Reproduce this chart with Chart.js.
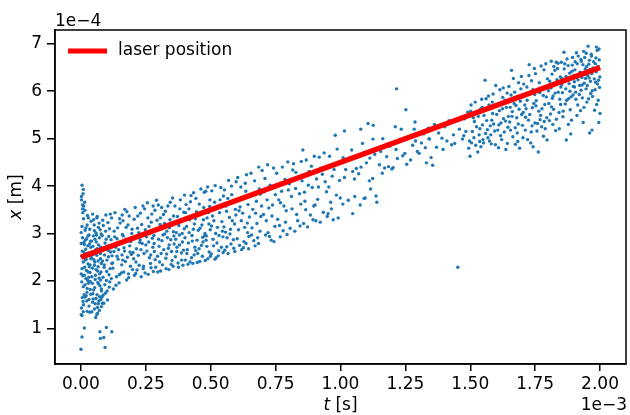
<!DOCTYPE html>
<html>
<head>
<meta charset="utf-8">
<script src="https://cdn.jsdelivr.net/npm/chart.js@4.4.1/dist/chart.umd.min.js"></script>
<style>
  body { margin: 0; background: #fff; }
  #chart { display: block; }
</style>
</head>
<body>
<canvas id="chart" width="630" height="415"></canvas>
<script>
// time in units of 1e-3 s, position in units of 1e-4 m (offsets shown as axis text)
const xTicks = [0, 0.25, 0.5, 0.75, 1.0, 1.25, 1.5, 1.75, 2.0];
const yTicks = [1, 2, 3, 4, 5, 6, 7];

const laserT = [0, 2.0];
const laserX = [2.5, 6.5];

// measured positions
const burstOutliers = [
  [0.000,0.56],[0.004,0.82],[0.013,1.01],[0.098,1.02],[0.119,0.93],[0.073,0.93],[0.075,0.79],[0.088,0.81],[0.093,0.60],
  [0.001,1.29],[0.004,1.27],[0.024,1.36],[0.034,1.34],[0.057,1.23],[0.061,1.29],[0.064,1.32],[0.079,1.46],[0.083,1.53],
  [0.022,1.58],[0.031,1.47],[0.045,1.55],[0.052,1.41],[0.058,1.63],[0.067,1.52],[0.071,1.38],[0.077,1.61],[0.085,1.70],
  [0.015,1.66],[0.038,1.72],[0.009,1.35]
];

const burstStart = [
  [0.002,3.71],[0.017,2.44],[0.009,1.88],[0.031,2.97],[0.005,2.63],[0.024,3.18],[0.013,2.12],[0.038,2.71],[0.001,3.02],[0.020,1.69],[0.027,2.36],[0.007,3.44],
  [0.035,2.18],[0.011,2.81],[0.029,1.95],[0.004,2.26],[0.016,3.07],[0.033,2.53],[0.022,2.89],[0.008,1.57],[0.039,3.26],[0.014,2.49],[0.003,1.98],[0.026,2.74],
  [0.019,2.05],[0.036,1.82],[0.010,3.31],[0.028,2.59],[0.006,2.91],[0.023,1.76],[0.032,2.30],[0.015,3.49],[0.001,2.15],[0.037,2.84],[0.012,1.71],[0.025,3.38],
  [0.018,2.67],[0.004,3.15],[0.030,2.08],[0.009,2.40],[0.034,3.09],[0.021,2.22],[0.002,1.43],[0.016,1.92],[0.027,2.95],[0.011,3.58],[0.038,2.47],[0.005,1.65],
  [0.023,2.57],[0.013,2.77],[0.031,1.61],[0.008,3.84],[0.019,3.12],[0.035,2.34],[0.003,2.52],[0.026,2.01],[0.014,2.29],[0.029,3.33],[0.007,2.11],[0.033,2.78],
  [0.020,2.46],[0.010,1.50],[0.036,1.99],[0.017,2.86],[0.024,1.84],[0.006,3.60],[0.001,2.79],[0.012,2.60],[0.028,2.19],[0.004,4.02],[0.009,3.93],[0.002,3.78],
  [0.014,3.66],[0.006,3.52],
  [0.043,2.61],[0.067,1.94],[0.051,3.18],[0.078,2.37],[0.046,1.73],[0.059,2.82],[0.072,2.15],[0.041,2.49],[0.063,3.36],[0.055,2.03],[0.076,2.71],[0.048,2.95],
  [0.069,1.58],[0.044,2.27],[0.061,2.54],[0.074,3.08],[0.053,1.86],[0.066,2.42],[0.049,3.29],[0.079,1.79],[0.057,2.66],[0.042,2.09],[0.071,2.91],[0.064,2.21],
  [0.047,1.62],[0.075,2.58],[0.058,3.01],[0.052,2.33],[0.068,2.76],[0.045,3.41],[0.062,1.71],[0.077,2.19],[0.054,2.88],[0.070,3.22],[0.050,2.45],[0.065,1.97],
  [0.041,2.84],[0.073,1.90],[0.056,2.12],[0.060,2.97],[0.047,2.56],[0.078,2.99],[0.063,2.68],[0.044,1.95],[0.067,3.13],[0.053,2.40],[0.072,1.67],[0.058,2.24],
  [0.049,1.81],[0.075,2.47],[0.061,3.33],[0.046,2.73],[0.070,2.06],[0.055,1.52],[0.064,1.44],[0.079,1.83],[0.042,1.35],[0.066,2.30],[0.052,3.06],[0.076,2.02],
  [0.083,2.42],[0.097,2.88],[0.108,2.13],[0.086,3.17],[0.114,2.61],[0.092,1.92],[0.103,2.74],[0.118,3.33],[0.089,2.29],[0.111,1.98],[0.095,3.05],[0.081,1.66],
  [0.106,2.51],[0.116,2.87],[0.099,2.20],[0.087,2.69],[0.113,3.41],[0.094,1.74],[0.104,3.23],[0.082,2.96],[0.119,2.37],[0.091,2.55],[0.109,1.87],[0.100,2.44],
  [0.085,2.08],[0.115,2.70],[0.096,3.39],[0.107,2.94],[0.088,1.53],[0.112,2.26],[0.093,2.80],[0.102,1.60],[0.117,2.05],[0.084,3.28],[0.110,3.10],[0.098,2.01],
  [0.090,2.34],[0.105,2.64],[0.120,2.53],[0.101,1.79]
];

const rampEarly = [
  [0.134,2.71],[0.151,3.22],[0.122,2.38],[0.147,1.96],[0.128,3.05],[0.158,2.55],[0.139,2.89],[0.125,1.83],[0.155,2.17],[0.131,3.44],[0.143,2.46],[0.160,2.98],
  [0.137,2.09],[0.149,3.31],[0.127,2.62],[0.153,2.80],[0.141,3.12],[0.123,2.27],[0.157,2.34],[0.135,1.91],[0.145,2.66],[0.130,2.93],[0.159,3.39],[0.139,2.52],
  [0.148,2.13],
  [0.173,2.88],[0.191,2.31],[0.162,3.27],[0.184,2.07],[0.168,2.63],[0.197,3.09],[0.177,3.46],[0.165,2.19],[0.188,2.74],[0.171,2.41],[0.194,2.56],[0.181,3.18],
  [0.163,2.95],[0.199,2.24],[0.176,2.02],[0.186,3.37],[0.169,3.51],[0.192,2.83],[0.179,2.50],[0.166,2.70],[0.196,3.00],[0.183,2.15],[0.174,3.13],[0.189,2.61],
  [0.161,2.44],
  [0.218,3.11],[0.203,2.47],[0.236,2.79],[0.211,2.16],[0.229,3.43],[0.207,2.92],[0.224,2.33],[0.239,3.58],[0.214,2.68],[0.232,2.09],[0.205,3.30],[0.221,2.54],
  [0.238,2.98],[0.209,3.55],[0.227,2.81],[0.216,2.23],[0.234,3.19],[0.201,2.60],[0.223,3.02],[0.212,2.40],[0.231,2.66],[0.240,2.26],[0.219,3.37],[0.206,2.12],
  [0.228,2.87],
  [0.252,2.93],[0.268,2.37],[0.245,3.52],[0.277,2.71],[0.259,2.14],[0.243,2.58],[0.271,3.24],[0.256,3.65],[0.264,2.49],[0.248,3.08],[0.279,2.20],[0.261,2.82],
  [0.241,2.31],[0.273,3.41],[0.254,2.63],[0.266,3.00],[0.247,2.17],[0.275,2.90],[0.258,3.33],[0.269,2.55],[0.250,2.76],[0.262,3.15],[0.278,3.58],[0.244,2.98],
  [0.270,2.28],
  [0.293,3.28],[0.283,2.62],[0.307,2.21],[0.298,3.60],[0.312,2.85],[0.286,2.45],[0.318,3.40],[0.301,2.73],[0.289,3.07],[0.314,2.34],[0.296,2.19],[0.305,3.19],
  [0.281,2.96],[0.309,2.58],[0.291,3.70],[0.316,2.97],[0.303,2.40],[0.285,3.49],[0.299,2.88],[0.311,3.55],[0.288,2.29],[0.319,2.66],[0.295,2.52],[0.306,3.33],
  [0.282,2.79],
  [0.337,2.69],[0.322,3.21],[0.351,2.43],[0.344,3.66],[0.328,2.26],[0.356,3.04],[0.333,2.91],[0.348,2.35],[0.325,3.47],[0.359,2.78],[0.341,3.12],[0.330,2.57],
  [0.353,3.75],[0.339,2.24],[0.346,2.87],[0.323,2.99],[0.357,3.37],[0.335,3.58],[0.349,2.62],[0.327,2.48],[0.343,3.29],[0.355,2.31],[0.331,3.05],[0.358,2.95],
  [0.340,2.76],
  [0.372,3.36],[0.391,2.82],[0.364,2.51],[0.383,3.71],[0.376,2.29],[0.398,3.10],[0.367,3.02],[0.388,2.44],[0.379,2.97],[0.362,3.58],[0.395,2.65],[0.370,2.71],
  [0.385,3.26],[0.399,3.81],[0.374,2.38],[0.381,3.52],[0.365,2.88],[0.393,2.33],[0.377,3.17],[0.387,2.59],[0.361,3.21],[0.396,3.45],[0.369,2.62],[0.390,3.00],
  [0.380,2.76],
  [0.414,2.80],[0.403,3.44],[0.431,2.37],[0.422,3.67],[0.408,2.58],[0.437,3.20],[0.417,3.02],[0.426,2.49],[0.401,2.91],[0.434,3.86],[0.412,2.35],[0.428,2.96],
  [0.405,3.61],[0.439,2.71],[0.419,3.29],[0.410,2.66],[0.433,3.09],[0.424,3.80],[0.402,2.44],[0.416,3.52],[0.436,2.55],[0.407,3.15],[0.429,2.84],[0.420,2.40],
  [0.438,3.38],
  [0.452,3.07],[0.468,2.52],[0.443,3.74],[0.477,2.96],[0.458,2.41],[0.447,2.86],[0.473,3.55],[0.462,3.94],[0.455,2.68],[0.441,3.31],[0.479,2.43],[0.466,3.18],
  [0.450,2.58],[0.470,2.82],[0.445,3.46],[0.475,3.87],[0.459,3.11],[0.464,2.75],[0.448,2.39],[0.472,3.29],[0.456,3.62],[0.442,2.64],[0.478,3.00],[0.461,3.41],
  [0.469,2.92],
  [0.486,3.33],[0.494,2.61],[0.481,3.89],[0.498,3.08],[0.489,2.47],[0.483,2.95],[0.497,3.71],[0.491,3.44],[0.485,2.73],[0.499,2.52],[0.488,3.98],[0.493,3.20],
  [0.482,2.86],[0.496,3.57]
];

const rampMid = [
  [0.512,3.27],[0.531,2.64],[0.504,3.90],[0.545,3.05],[0.521,2.49],[0.538,3.58],[0.509,2.88],[0.549,3.79],[0.526,3.13],[0.517,4.01],[0.541,2.71],[0.502,2.57],
  [0.534,3.44],[0.515,3.66],[0.547,2.93],[0.524,2.80],[0.507,3.37],[0.539,3.97],[0.529,2.53],[0.519,3.00],[0.543,3.25],[0.511,2.74],[0.536,3.71],[0.503,3.16],
  [0.548,2.60],[0.523,3.53],[0.532,2.96],[0.516,2.46],
  [0.561,3.47],[0.578,2.78],[0.553,3.92],[0.592,3.20],[0.567,2.58],[0.585,3.66],[0.557,3.03],[0.598,4.09],[0.572,3.34],[0.589,2.69],[0.563,2.91],[0.581,3.82],
  [0.554,2.65],[0.595,3.51],[0.569,4.12],[0.576,3.09],[0.587,2.87],[0.559,3.58],[0.593,2.62],[0.566,3.74],[0.583,3.27],[0.551,3.14],[0.574,2.99],[0.597,3.39],
  [0.562,2.72],[0.580,4.00],
  [0.613,3.56],[0.628,2.83],[0.604,4.18],[0.641,3.22],[0.619,2.66],[0.635,3.89],[0.607,3.08],[0.647,2.94],[0.623,3.43],[0.611,2.75],[0.638,4.24],[0.631,3.13],
  [0.616,3.98],[0.644,3.61],[0.602,2.89],[0.626,2.70],[0.649,3.35],[0.621,3.72],[0.636,2.79],[0.609,3.48],[0.642,3.02],[0.633,4.06],[0.618,3.27],[0.646,2.68],
  [0.662,3.51],[0.681,2.91],[0.655,4.27],[0.693,3.36],[0.671,2.74],[0.687,3.94],[0.659,3.12],[0.698,4.33],[0.676,3.68],[0.666,2.85],[0.690,3.05],[0.652,3.79],
  [0.684,2.79],[0.669,4.11],[0.696,3.58],[0.678,3.21],[0.657,2.97],[0.691,3.83],[0.673,3.43],[0.685,4.40],
  [0.714,3.27],[0.733,2.86],[0.706,3.88],[0.742,4.38],[0.721,3.02],[0.738,3.60],[0.709,4.16],[0.747,3.15],[0.726,2.94],[0.717,3.71],[0.744,2.83],[0.729,4.02],
  [0.703,3.40],[0.736,3.37],[0.719,4.45],[0.749,3.82],[0.724,3.54],[0.711,2.97],
  [0.762,3.71],[0.779,3.06],[0.754,4.27],[0.791,3.48],[0.768,2.93],[0.786,4.14],[0.758,3.30],[0.797,4.51],[0.773,3.89],[0.765,3.17],[0.794,2.98],[0.782,3.58],
  [0.751,3.99],[0.776,4.40],[0.788,3.24],[0.769,3.65],[0.799,3.92],
  [0.813,3.52],[0.828,4.29],[0.806,3.11],[0.842,3.84],[0.819,4.47],[0.835,3.27],[0.803,4.05],[0.847,3.62],[0.824,3.05],[0.838,4.19],[0.811,3.78],[0.849,4.52],
  [0.831,3.40],[0.816,4.34],[0.844,3.16],[0.827,3.95],
  [0.855,4.76],[0.863,3.68],[0.879,4.31],[0.858,3.21],[0.891,3.97],[0.868,4.55],[0.884,3.39],[0.852,4.11],[0.897,3.58],[0.873,3.14],[0.888,4.42],[0.861,3.87],
  [0.894,3.29],[0.876,4.02],[0.866,3.50],[0.899,4.63],
  [0.912,3.72],[0.927,4.38],[0.905,3.27],[0.941,4.09],[0.918,4.61],[0.934,3.45],[0.908,4.15],[0.946,3.88],[0.922,3.24],[0.937,4.70],[0.915,3.98],[0.949,3.36],
  [0.930,4.25],[0.902,3.60],
  [0.980,5.07],[0.962,3.66],[0.977,4.47],[0.955,3.98],[0.991,3.33],[0.968,4.21],[0.984,3.81],[0.958,4.63],[0.996,4.12],[0.972,3.29],[0.987,4.78],[0.965,3.52],
  [0.999,3.75],[0.975,4.35],[0.952,3.42]
];

const rampSparse = [
  [1.009,3.62],[1.015,4.18],[1.010,4.60],[1.015,5.16],[1.020,4.35],[1.030,3.70],[1.043,4.76],[1.047,3.42],[1.054,4.15],[1.055,3.78],[1.061,4.37],[1.047,4.31],
  [1.070,4.26],[1.076,3.60],[1.078,5.20],[1.079,4.40],[1.085,4.90],[1.091,3.74],[1.095,3.75],[1.100,4.49],[1.106,5.32],[1.111,4.11],[1.113,4.59],[1.116,3.94],
  [1.124,4.16],[1.125,4.99],[1.126,5.28],[1.132,4.67],[1.137,3.79],[1.140,3.66],[1.150,4.45],[1.155,4.73],[1.161,4.27],[1.163,5.00],[1.170,4.38],[1.178,4.62],
  [1.185,4.41],[1.190,4.84],[1.198,4.36],[1.203,4.39],[1.211,5.25],[1.216,6.05],[1.214,4.77],[1.219,4.58],[1.225,4.96],[1.234,5.20],[1.240,4.64],[1.248,4.69],
  [1.252,5.61],[1.255,4.46],[1.262,5.03],[1.270,4.55],[1.278,4.86],[1.284,5.20],[1.287,5.35],[1.289,4.95],[1.296,4.73],[1.303,4.69],[1.312,4.91],[1.320,5.10],
  [1.327,4.81],[1.331,4.49],[1.338,5.22],[1.341,5.00],[1.349,4.60],[1.343,4.99],[1.355,4.44],[1.362,5.30],[1.370,4.82],[1.378,5.12],[1.391,5.01],[1.395,4.77],
  [1.402,5.25],[1.410,4.95],[1.418,5.38],[1.428,4.87],[1.435,5.08],[1.440,4.90],[1.452,2.29],[1.458,5.20],[1.465,5.45],[1.470,4.99],[1.475,5.06],[1.478,5.42],
  [1.483,5.15],[1.490,5.56],[1.497,4.95],[1.494,4.80],[1.499,4.63]
];

const rampLate = [
  [1.512,5.44],[1.534,5.08],[1.503,5.71],[1.547,5.29],[1.521,4.86],[1.539,5.62],[1.508,5.15],[1.529,4.72],[1.544,5.83],[1.516,5.36],[1.549,4.98],[1.526,5.54],
  [1.505,4.91],[1.537,5.21],[1.519,5.77],[1.541,4.83],[1.531,5.47],[1.514,5.02],[1.546,5.66],[1.524,5.25],[1.501,5.58],[1.536,4.94],
  [1.557,6.23],[1.563,5.38],[1.581,4.89],[1.572,5.71],[1.594,5.16],[1.568,5.02],[1.588,5.94],[1.553,5.49],[1.598,6.12],[1.577,5.27],[1.561,5.84],[1.586,5.53],
  [1.574,4.95],[1.592,5.68],[1.566,5.19],[1.583,5.39],[1.555,5.63],[1.597,4.87],[1.570,5.90],[1.579,5.08],[1.590,5.31],[1.559,5.11],[1.585,5.77],[1.551,4.91],
  [1.612,5.59],[1.625,5.87],[1.609,4.81],[1.637,4.77],[1.618,5.33],[1.642,5.96],[1.604,5.72],[1.631,5.14],[1.647,5.47],[1.614,6.03],[1.628,5.42],[1.606,5.18],
  [1.639,5.66],[1.621,4.98],[1.645,5.24],[1.602,5.51],[1.633,5.81],[1.617,5.06],[1.649,6.10],[1.624,5.63],[1.610,5.29],[1.636,5.37],[1.643,4.90],[1.627,6.07],
  [1.659,6.44],[1.671,5.98],[1.655,5.18],[1.686,6.18],[1.662,5.57],[1.690,4.80],[1.668,5.86],[1.683,4.94],[1.676,5.70],[1.652,5.35],[1.695,6.05],[1.664,5.04],
  [1.679,5.44],[1.688,5.62],[1.657,5.92],[1.673,5.23],[1.698,5.51],[1.666,6.27],[1.681,5.12],[1.693,5.79],[1.654,5.66],[1.674,4.88],[1.685,5.31],[1.661,5.47],
  [1.697,6.31],[1.669,5.74],
  [1.704,5.55],[1.727,6.56],[1.712,5.18],[1.739,5.65],[1.742,4.83],[1.718,6.09],[1.735,5.14],[1.747,6.48],[1.708,5.89],[1.724,5.39],[1.731,5.96],[1.701,5.28],
  [1.745,5.74],[1.715,5.63],[1.736,6.22],[1.721,4.98],[1.749,5.33],[1.706,6.15],[1.729,5.51],[1.741,6.03],[1.713,5.45],[1.733,4.91],[1.719,5.81],[1.748,5.93],
  [1.703,5.02],[1.726,6.33],[1.738,5.27],[1.710,5.71],
  [1.762,4.72],[1.771,5.49],[1.784,6.45],[1.759,5.32],[1.793,5.88],[1.766,6.18],[1.782,5.05],[1.754,5.80],[1.797,6.26],[1.776,5.63],[1.789,5.21],[1.768,5.97],
  [1.751,6.37],[1.787,5.72],[1.779,6.05],[1.757,5.16],[1.795,5.44],[1.773,6.53],[1.764,5.58],[1.799,6.12],[1.785,5.36],[1.760,6.02],[1.791,6.58],[1.775,5.25],
  [1.753,5.69],[1.781,5.91],[1.796,4.97],[1.769,5.40],
  [1.812,6.63],[1.818,5.30],[1.843,5.21],[1.827,5.96],[1.806,6.21],[1.836,6.48],[1.821,5.62],[1.849,6.09],[1.803,5.74],[1.832,5.41],[1.815,6.36],[1.845,5.83],
  [1.824,6.14],[1.809,5.52],[1.838,6.59],[1.829,5.17],[1.801,6.01],[1.847,6.30],[1.819,5.90],[1.834,6.24],[1.813,5.67],[1.842,5.55],[1.826,6.44],[1.805,5.38],
  [1.839,5.98],[1.822,6.52],[1.848,5.72],[1.811,6.07],[1.831,6.61],[1.816,5.85],
  [1.861,6.82],[1.877,6.54],[1.870,4.97],[1.887,5.10],[1.853,6.27],[1.892,6.42],[1.866,5.73],[1.881,6.16],[1.857,5.46],[1.896,5.92],[1.873,6.68],[1.885,5.61],
  [1.851,6.61],[1.868,6.05],[1.899,6.33],[1.879,5.84],[1.862,6.47],[1.890,5.39],[1.855,5.97],[1.875,6.23],[1.894,6.71],[1.858,5.58],[1.883,6.38],[1.871,5.81],
  [1.897,6.10],[1.864,6.58],[1.888,5.88],[1.852,6.14],[1.878,5.30],[1.893,6.55],[1.869,6.31],[1.884,6.00],
  [1.909,6.81],[1.937,6.84],[1.935,5.34],[1.921,6.12],[1.903,6.45],[1.944,6.27],[1.914,5.71],[1.928,6.63],[1.906,5.98],[1.948,6.52],[1.918,6.35],[1.932,5.86],
  [1.901,6.20],[1.941,6.71],[1.925,5.59],[1.912,6.58],[1.946,6.05],[1.923,6.40],[1.907,5.83],[1.939,6.17],[1.916,6.74],[1.930,6.29],[1.949,5.77],[1.904,6.62],
  [1.927,6.02],[1.943,6.47],[1.911,5.49],[1.934,6.56],[1.920,5.93],[1.947,6.80],[1.902,6.09],[1.926,6.67],[1.938,5.66],[1.915,6.24],[1.945,6.36],[1.931,6.13],
  [1.954,6.95],[1.960,5.12],[1.969,5.18],[1.995,5.34],[1.989,6.86],[1.976,6.44],[1.963,6.21],[1.984,6.70],[1.957,6.57],[1.998,6.08],[1.971,5.89],[1.992,6.52],
  [1.966,6.78],[1.981,6.03],[1.952,6.33],[1.996,6.89],[1.978,6.26],[1.987,5.72],[1.959,6.65],[1.973,6.49],[1.999,6.30],[1.964,5.95],[1.985,6.41],[1.951,6.12],
  [1.993,5.81],[1.975,6.62],[1.968,6.37],[1.990,6.15],[1.956,5.84],[1.982,6.58],[1.997,6.66],[1.970,6.01],[1.986,6.93],[1.961,6.46],[1.979,5.60],[1.994,6.23],
  [1.967,6.74],[1.983,6.19],[2.000,5.53],[1.958,6.28]
];

const FONT = 'DejaVu Sans';
const FONT_SIZE = 17;
const tickFont = { family: FONT, size: FONT_SIZE };

const toPoints = rows => rows.map(([t, x]) => ({ x: t, y: x }));

// draws "italic symbol + plain unit" centred on 0
function drawMixedLabel(ctx, symbol, unit) {
    ctx.font = `italic ${FONT_SIZE}px ${FONT}`;
    const symW = ctx.measureText(symbol).width;
    ctx.font = `${FONT_SIZE}px ${FONT}`;
    const total = symW + ctx.measureText(unit).width;
    ctx.font = `italic ${FONT_SIZE}px ${FONT}`;
    ctx.fillText(symbol, -total / 2, 0);
    ctx.font = `${FONT_SIZE}px ${FONT}`;
    ctx.fillText(unit, -total / 2 + symW, 0);
}

// frame, offset texts, axis titles and legend
const decorPlugin = {
    id: 'decor',
    afterDraw(chart) {
        const { ctx, chartArea: a } = chart;
        ctx.save();
        ctx.strokeStyle = '#000';
        ctx.lineWidth = 1.5;
        ctx.strokeRect(a.left, a.top, a.right - a.left, a.bottom - a.top);

        ctx.fillStyle = '#000';
        ctx.font = `${FONT_SIZE}px ${FONT}`;
        ctx.textBaseline = 'alphabetic';
        ctx.textAlign = 'left';
        ctx.fillText('1e\u22124', a.left, 26);
        ctx.textAlign = 'right';
        ctx.fillText('1e\u22123', a.right + 1, 410);

        ctx.textAlign = 'left';
        ctx.save();
        ctx.translate((a.left + a.right) / 2, 410);
        drawMixedLabel(ctx, 't', ' [s]');
        ctx.restore();

        ctx.save();
        ctx.translate(21, (a.top + a.bottom) / 2);
        ctx.rotate(-Math.PI / 2);
        drawMixedLabel(ctx, 'x', ' [m]');
        ctx.restore();

        // legend
        ctx.strokeStyle = '#ff0000';
        ctx.lineWidth = 5;
        ctx.beginPath();
        ctx.moveTo(68, 51);
        ctx.lineTo(107, 51);
        ctx.stroke();
        ctx.fillStyle = '#000';
        ctx.font = `${FONT_SIZE}px ${FONT}`;
        ctx.textBaseline = 'middle';
        ctx.fillText('laser position', 118, 51);
        ctx.restore();
    }
};

const scatterData = [burstOutliers, burstStart, rampEarly, rampMid, rampSparse, rampLate].flatMap(toPoints);
const laserData = laserT.map((t, i) => ({ x: t, y: laserX[i] }));

new Chart(document.getElementById('chart'), {
    type: 'scatter',
    data: {
        datasets: [
            {
                label: 'laser position',
                type: 'line',
                data: laserData,
                borderColor: '#ff0000',
                borderWidth: 5.5,
                pointRadius: 0,
                fill: false,
                order: 0
            },
            {
                label: 'measured',
                data: scatterData,
                backgroundColor: '#1f77b4',
                borderWidth: 0,
                pointRadius: 1.7,
                order: 1
            }
        ]
    },
    options: {
        responsive: false,
        animation: false,
        events: [],
        layout: { padding: { top: 30, right: 2, left: 0, bottom: 0 } },
        plugins: { legend: { display: false }, tooltip: { enabled: false } },
        scales: {
            x: {
                type: 'linear',
                min: -0.1,
                max: 2.1,
                afterBuildTicks: s => { s.ticks = xTicks.map(v => ({ value: v })); },
                afterFit: s => { s.height = 51; },
                ticks: { callback: v => v.toFixed(2), font: tickFont, color: '#000', padding: 3, maxRotation: 0, autoSkip: false },
                grid: { drawOnChartArea: false, drawTicks: true, tickLength: 7, color: '#000', lineWidth: 1.5 },
                border: { color: '#000', width: 1.5 }
            },
            y: {
                type: 'linear',
                min: 0.25,
                max: 7.29,
                afterBuildTicks: s => { s.ticks = yTicks.map(v => ({ value: v })); },
                afterFit: s => { s.width = 55; },
                ticks: { callback: v => String(v), font: tickFont, color: '#000', padding: 5, autoSkip: false },
                grid: { drawOnChartArea: false, drawTicks: true, tickLength: 8, color: '#000', lineWidth: 1.5 },
                border: { color: '#000', width: 1.5 }
            }
        }
    },
    plugins: [decorPlugin]
});
</script>
</body>
</html>
